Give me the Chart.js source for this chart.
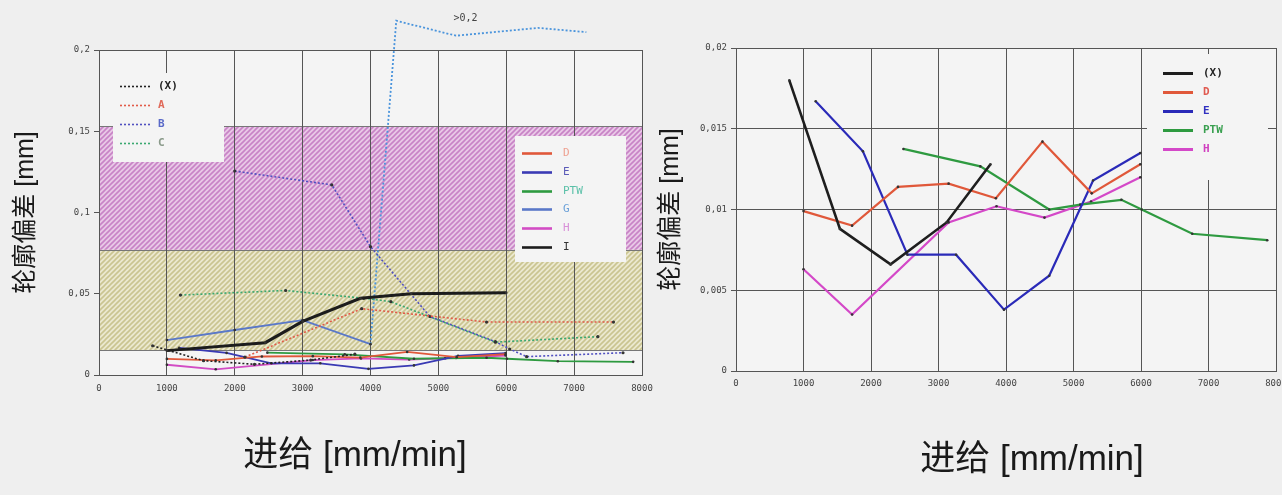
<!DOCTYPE html>
<html>
<head>
<meta charset="utf-8">
<script src="https://cdn.jsdelivr.net/npm/chart.js@4.4.0/dist/chart.umd.min.js"></script>
<style>
  html, body { margin: 0; padding: 0; background: #efefef; }
  #wrap { position: relative; width: 1282px; height: 495px; overflow: hidden; }
  .pane { position: absolute; top: 0; height: 495px; }
</style>
</head>
<body>
<div id="wrap">
  <div class="pane" style="left:0;width:655px"><canvas id="left" width="655" height="495"></canvas></div>
  <div class="pane" style="left:655px;width:627px"><canvas id="right" width="627" height="495"></canvas></div>
</div>
<script>
// feed rate [mm/min] and contour deviation [mm] per series
const feedX = [790, 1540, 2290, 3120, 3770];
const devX = [0.0180, 0.0088, 0.0066, 0.0092, 0.0128];

const feedA = [2150, 3870, 5710, 7580];
const devA = [0.0110, 0.0408, 0.0326, 0.0326];

const feedB = [2000, 3430, 4000, 4875, 5840, 6050, 6300, 7720];
const devB = [0.1255, 0.117, 0.079, 0.036, 0.0205, 0.0160, 0.0113, 0.0137];

const feedC = [1200, 2750, 3900, 4300, 5840, 7350];
const devC = [0.0492, 0.0520, 0.0472, 0.0451, 0.0202, 0.0236];

const feedD = [1000, 1720, 2400, 3150, 3850, 4540, 5270, 5990];
const devD = [0.0099, 0.0090, 0.0114, 0.0116, 0.0107, 0.0142, 0.0110, 0.0128];

const feedE = [1180, 1880, 2540, 3260, 3970, 4640, 5290, 5990];
const devE = [0.0167, 0.0136, 0.0072, 0.0072, 0.0038, 0.0059, 0.0118, 0.0135];

const feedPTW = [2480, 3620, 4640, 5100, 5710, 6010, 6760, 7870];
const devPTW = [0.01375, 0.01267, 0.0100, 0.0103, 0.0106, 0.0100, 0.0085, 0.0081];

const feedG = [1000, 2000, 3000, 4000, 4380, 5260, 6470, 7180];
const devG = [0.0215, 0.0277, 0.0338, 0.0190, 0.218, 0.2088, 0.2136, 0.211];

const feedH = [1000, 1720, 3150, 3860, 4570, 5260, 5990];
const devH = [0.0063, 0.0035, 0.0092, 0.0102, 0.0095, 0.0105, 0.0120];

const feedI = [1000, 2450, 3000, 3850, 4600, 6000];
const devI = [0.0150, 0.0199, 0.0330, 0.0472, 0.0500, 0.0506];

// tolerance bands on the left chart [from, to]
const bandRed = [0.077, 0.153];
const bandYellow = [0.0154, 0.077];

const feedTicks = [0, 1000, 2000, 3000, 4000, 5000, 6000, 7000, 8000];
const overflowNote = '>0,2';

function pts(xs, ys) {
  return xs.map((x, i) => ({ x: x, y: ys[i] }));
}

function hatch(ctx, base, stripe) {
  const s = 5;
  const c = document.createElement('canvas');
  c.width = s; c.height = s;
  const g = c.getContext('2d');
  g.fillStyle = base;
  g.fillRect(0, 0, s, s);
  g.strokeStyle = stripe;
  g.lineWidth = 1.6;
  g.beginPath();
  g.moveTo(0, s); g.lineTo(s, 0);
  g.moveTo(-1, 1); g.lineTo(1, -1);
  g.moveTo(s - 1, s + 1); g.lineTo(s + 1, s - 1);
  g.stroke();
  return ctx.createPattern(c, 'repeat');
}

const MONO = "'DejaVu Sans Mono', 'Liberation Mono', monospace";
const TITLE = "'Liberation Sans', 'Noto Sans CJK SC', sans-serif";

// background, bands
const bandsPlugin = {
  id: 'bands',
  beforeDraw(chart, args, opts) {
    const { ctx, chartArea: a } = chart;
    const y = chart.scales.y;
    ctx.save();
    ctx.fillStyle = opts.plotBg || '#f3f3f3';
    ctx.fillRect(a.left, a.top, a.width, a.height);
    (opts.bands || []).forEach(b => {
      const top = y.getPixelForValue(b.range[1]);
      const bot = y.getPixelForValue(b.range[0]);
      ctx.fillStyle = hatch(ctx, b.base, b.stripe);
      ctx.fillRect(a.left, top, a.width, bot - top);
      ctx.strokeStyle = '#777';
      ctx.lineWidth = 1;
      ctx.beginPath();
      ctx.moveTo(a.left, Math.round(top) + 0.5); ctx.lineTo(a.right, Math.round(top) + 0.5);
      ctx.moveTo(a.left, Math.round(bot) + 0.5); ctx.lineTo(a.right, Math.round(bot) + 0.5);
      ctx.stroke();
    });
    ctx.restore();
  }
};

// frame + legend boxes (drawn over grid, under lines)
const boxLegend = {
  id: 'boxLegend',
  beforeDatasetsDraw(chart, args, opts) {
    const { ctx, chartArea: a } = chart;
    ctx.save();
    ctx.strokeStyle = '#555';
    ctx.lineWidth = 1;
    ctx.strokeRect(Math.round(a.left) + 0.5, Math.round(a.top) + 0.5, Math.round(a.width), Math.round(a.height));
    (opts.boxes || []).forEach(b => {
      if (b.fill) {
        ctx.fillStyle = b.fill;
        ctx.fillRect(b.x, b.y, b.w, b.h);
      }
      b.items.forEach((label, i) => {
        const ds = chart.data.datasets.find(d => d.label === label);
        const yy = Math.round(b.y + b.first + i * b.gap) + 0.5;
        ctx.strokeStyle = ds.borderColor;
        ctx.lineWidth = b.lineWidth || ds.borderWidth;
        ctx.setLineDash(ds.borderDash || []);
        ctx.beginPath();
        ctx.moveTo(b.x + b.lineX0, yy);
        ctx.lineTo(b.x + b.lineX1, yy);
        ctx.stroke();
        ctx.setLineDash([]);
        ctx.fillStyle = ds.labelColor || ds.borderColor;
        ctx.font = b.font;
        ctx.textBaseline = 'middle';
        ctx.textAlign = 'left';
        ctx.fillText(label, b.x + b.textX, yy);
      });
    });
    ctx.restore();
  }
};

// x axis caption + overflow note
const captions = {
  id: 'captions',
  afterDraw(chart, args, opts) {
    const ctx = chart.ctx;
    ctx.save();
    ctx.textAlign = 'center';
    ctx.textBaseline = 'middle';
    if (opts.xTitle) {
      ctx.font = opts.xTitle.font;
      ctx.fillStyle = '#1a1a1a';
      ctx.fillText(opts.xTitle.text, opts.xTitle.x, opts.xTitle.y);
    }
    if (opts.note) {
      const px = chart.scales.x.getPixelForValue(opts.note.feed);
      const py = chart.scales.y.getPixelForValue(opts.note.dev);
      ctx.font = '10px ' + MONO;
      ctx.fillStyle = '#444';
      ctx.fillText(opts.note.text, px, py);
    }
    ctx.restore();
  }
};

function dotted(label, xs, ys, color, labelColor) {
  return {
    label: label, data: pts(xs, ys), borderColor: color, labelColor: labelColor,
    borderWidth: 1.6, borderDash: [2, 2], pointRadius: 1.6, pointBackgroundColor: '#333',
    pointBorderWidth: 0, tension: 0
  };
}
function solid(label, xs, ys, color, width, labelColor) {
  return {
    label: label, data: pts(xs, ys), borderColor: color, labelColor: labelColor,
    borderWidth: width, pointRadius: 1.3, pointBackgroundColor: '#333',
    pointBorderWidth: 0, tension: 0
  };
}

function axes(cfg) {
  return {
    x: {
      type: 'linear', min: 0, max: 8000,
      afterBuildTicks: s => { s.ticks = feedTicks.map(v => ({ value: v })); },
      afterFit: s => { s.height = cfg.xHeight; s.paddingLeft = 0; s.paddingRight = 0; },
      grid: { color: '#555', lineWidth: 1, drawTicks: false },
      border: { color: '#555' },
      ticks: { padding: cfg.xPad, maxRotation: 0, autoSkip: false, color: '#444',
               font: { family: MONO, size: 9 }, callback: v => String(v) }
    },
    y: {
      type: 'linear', min: 0, max: cfg.yMax,
      ticks: { stepSize: cfg.yStep, padding: 4, color: '#444', font: { family: MONO, size: 9 },
               callback: v => v === 0 ? '0' : String(+v.toFixed(3)).replace('.', ',') },
      afterFit: s => { s.width = cfg.yWidth; },
      grid: { color: '#555', lineWidth: 1, drawOnChartArea: cfg.yGrid, tickLength: 5 },
      border: { color: '#555' },
      title: { display: true, text: '轮廓偏差 [mm]', color: '#1a1a1a',
               font: { family: TITLE, size: 25 }, padding: { top: cfg.yTitlePad, bottom: 0 } }
    }
  };
}

Chart.defaults.animation = false;

new Chart(document.getElementById('left'), {
  type: 'line',
  data: {
    datasets: [
      solid('I', feedI, devI, '#1c1c1c', 3, '#333'),
      dotted('(X)', feedX, devX, '#222', '#222'),
      dotted('A', feedA, devA, '#e25a48', '#e06a5a'),
      dotted('B', feedB, devB, '#5050c0', '#5a6ac8'),
      dotted('C', feedC, devC, '#3aa870', '#8a9a8a'),
      solid('D', feedD, devD, '#e0583a', 1.8, '#eea090'),
      solid('E', feedE, devE, '#3a3ab4', 1.8, '#5a5ab8'),
      solid('PTW', feedPTW, devPTW, '#2e9a40', 1.8, '#5ac0a8'),
      Object.assign(solid('G', feedG, devG, '#5a78c8', 1.8, '#6aa0d8'), {
        clip: false,
        segment: {
          borderDash: c => c.p0DataIndex >= 3 ? [2, 2] : undefined,
          borderColor: c => c.p0DataIndex >= 3 ? '#4a94dc' : undefined
        }
      }),
      solid('H', feedH, devH, '#d24cc4', 1.8, '#d890d8')
    ]
  },
  options: {
    responsive: false,
    devicePixelRatio: 1,
    layout: { padding: { left: 0, right: 13, top: 50, bottom: 0 } },
    scales: axes({ xHeight: 120, xPad: 8, yMax: 0.2, yStep: 0.05, yWidth: 99, yGrid: false, yTitlePad: 11 }),
    plugins: {
      legend: { display: false },
      tooltip: { enabled: false },
      bands: {
        plotBg: '#f4f4f4',
        bands: [
          { range: bandRed, base: '#e8c8e6', stripe: '#c883c6' },
          { range: bandYellow, base: '#ebe8cf', stripe: '#cac490' }
        ]
      },
      boxLegend: {
        boxes: [
          { x: 113, y: 73, w: 111, h: 89, fill: '#f4f4f4', first: 13, gap: 19,
            lineX0: 7, lineX1: 37, textX: 45, lineWidth: 1.6, font: 'bold 11px ' + MONO,
            items: ['(X)', 'A', 'B', 'C'] },
          { x: 515, y: 136, w: 111, h: 126, fill: '#f4f4f4', first: 17, gap: 18.8,
            lineX0: 7, lineX1: 37, textX: 48, lineWidth: 2.6, font: '11px ' + MONO,
            items: ['D', 'E', 'PTW', 'G', 'H', 'I'] }
        ]
      },
      captions: {
        xTitle: { text: '进给 [mm/min]', x: 355, y: 456, font: '35px ' + TITLE },
        note: { text: overflowNote, feed: 5400, dev: 0.2195 }
      }
    }
  },
  plugins: [bandsPlugin, boxLegend, captions]
});

new Chart(document.getElementById('right'), {
  type: 'line',
  data: {
    datasets: [
      solid('(X)', feedX, devX, '#1e1e1e', 2.6, '#222'),
      solid('D', feedD, devD, '#e0583a', 2.2, '#e05a50'),
      solid('E', feedE, devE, '#2a2ab8', 2.2, '#3030c0'),
      solid('PTW', feedPTW, devPTW, '#2e9a40', 2.2, '#3aa050'),
      solid('H', feedH, devH, '#d448c8', 2.2, '#d040c0')
    ]
  },
  options: {
    responsive: false,
    devicePixelRatio: 1,
    layout: { padding: { left: 0, right: 6, top: 48, bottom: 0 } },
    scales: axes({ xHeight: 124, xPad: 7, yMax: 0.02, yStep: 0.005, yWidth: 81, yGrid: true, yTitlePad: 1 }),
    plugins: {
      legend: { display: false },
      tooltip: { enabled: false },
      bands: { plotBg: '#f4f4f4', bands: [] },
      boxLegend: {
        boxes: [
          { x: 492, y: 54, w: 121, h: 126, fill: '#f4f4f4', first: 19, gap: 19,
            lineX0: 16, lineX1: 46, textX: 56, lineWidth: 3, font: 'bold 11px ' + MONO,
            items: ['(X)', 'D', 'E', 'PTW', 'H'] }
        ]
      },
      captions: {
        xTitle: { text: '进给 [mm/min]', x: 377, y: 460, font: '35px ' + TITLE }
      }
    }
  },
  plugins: [bandsPlugin, boxLegend, captions]
});
</script>
</body>
</html>
